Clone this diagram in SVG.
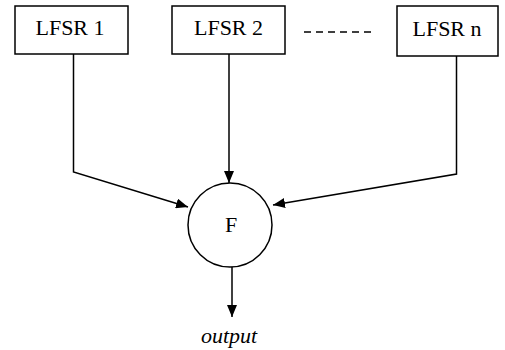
<svg xmlns="http://www.w3.org/2000/svg" width="505" height="350" viewBox="0 0 505 350">
<style>
.box{fill:#fff;stroke:#000;stroke-width:1.5}
.t{font-family:"Liberation Serif","Times New Roman",serif;font-size:22px;fill:#000;text-anchor:middle}
.ln{fill:none;stroke:#000;stroke-width:1.5}
</style>
<defs>
<marker id="ah" markerWidth="12" markerHeight="10" refX="12" refY="5" orient="auto" markerUnits="userSpaceOnUse">
<path d="M0,0 L12,5 L0,10 Z" fill="#000"/>
</marker>
</defs>
<rect width="505" height="350" fill="#fff"/>
<g id="lfsr1"><rect class="box" x="15" y="6" width="113" height="48"/><text class="t" x="70" y="35">LFSR 1</text></g>
<g id="lfsr2"><rect class="box" x="172" y="6" width="113" height="48"/><text class="t" x="228.5" y="35">LFSR 2</text></g>
<g id="lfsrn"><rect class="box" x="397" y="6" width="101" height="50"/><text class="t" x="447" y="36">LFSR n</text></g>
<g id="dots"><line x1="304" y1="32" x2="373" y2="32" stroke="#000" stroke-width="1.5" stroke-dasharray="7,5"/></g>
<g id="F"><circle cx="230" cy="225" r="42" fill="#fff" stroke="#000" stroke-width="1.5"/><text class="t" x="231" y="232" font-size="24">F</text></g>
<g id="out"><text class="t" x="229" y="343" font-size="23" font-style="italic">output</text></g>
<g id="connectors">
<polyline class="ln" points="73.5,54 73.5,172 188,207" marker-end="url(#ah)"/>
<line class="ln" x1="229" y1="54" x2="229" y2="183" marker-end="url(#ah)"/>
<polyline class="ln" points="456.5,56 456.5,174 273,205" marker-end="url(#ah)"/>
<line class="ln" x1="232" y1="267" x2="232" y2="317" marker-end="url(#ah)"/>
</g>
</svg>
